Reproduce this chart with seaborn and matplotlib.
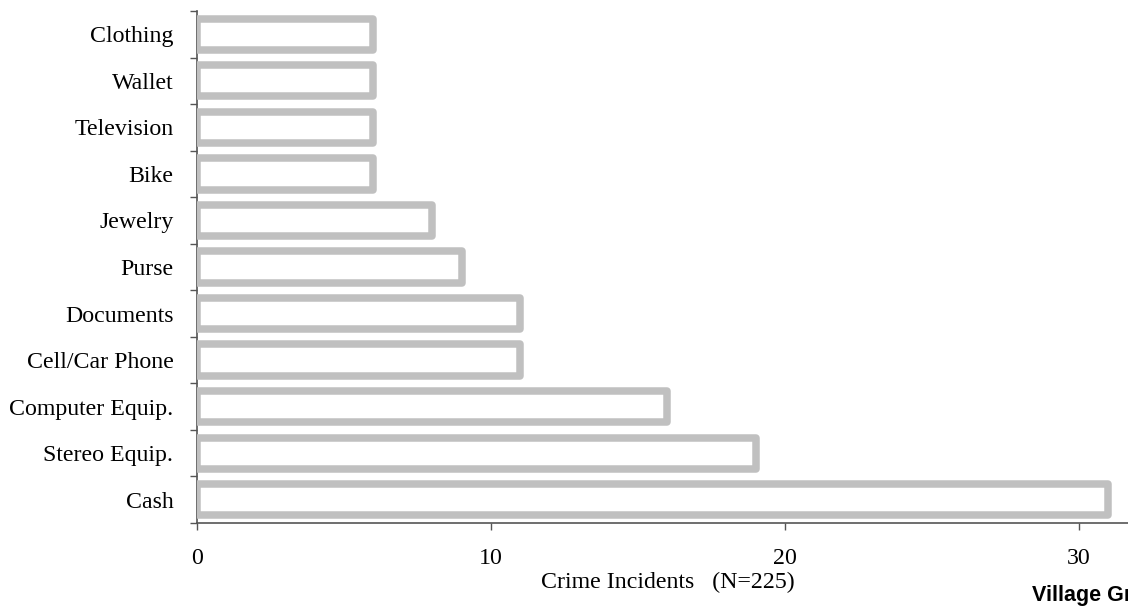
import matplotlib
matplotlib.use("Agg")
import matplotlib.pyplot as plt
import seaborn as sns
import pandas as pd
import numpy as np

categories = ["Clothing", "Wallet", "Television", "Bike", "Jewelry", "Purse",
              "Documents", "Cell/Car Phone", "Computer Equip.", "Stereo Equip.", "Cash"]
incidents = [6, 6, 6, 6, 8, 9, 11, 11, 16, 19, 31]
xticks = [0, 10, 20, 30]
xlabel = "Crime Incidents   (N=225)"
footer = "Village Gr"

sns.set_theme(style="white")
plt.rcParams['font.family'] = ['Liberation Serif', 'DejaVu Serif']

df = pd.DataFrame({"item": categories, "count": incidents})

W, H = 1128, 611
fig = plt.figure(figsize=(W / 100, H / 100), dpi=100)
left_px, top_px, bottom_px = 197, 11, 523
width_px = 29.4 * 32
ax = fig.add_axes([left_px / W, (H - bottom_px) / H, width_px / W, (bottom_px - top_px) / H])

sns.barplot(data=df, x="count", y="item", order=categories, orient="h",
            color="white", edgecolor="#c0c0c0", linewidth=5.4, width=0.67, ax=ax)
for p in ax.patches:
    p.set_joinstyle("round")
    p.set_facecolor("white")

ax.set_xlim(0, 32)
ax.set_ylim(len(categories) - 0.5, -0.5)

for s in ["top", "right"]:
    ax.spines[s].set_visible(False)
for s in ["left", "bottom"]:
    ax.spines[s].set_color("#555555")
    ax.spines[s].set_linewidth(1.2)
    ax.spines[s].set_zorder(0.5)

ax.set_xticks(xticks)
ax.set_xticklabels([str(t) for t in xticks])
ax.set_yticks(range(len(categories)))
ax.set_yticklabels(categories)
ax.set_yticks(np.arange(-0.5, len(categories), 1.0), minor=True)

ax.tick_params(axis="y", which="major", length=0, pad=17, labelsize=17.2, labelcolor="black")
ax.tick_params(axis="y", which="minor", left=True, length=5, width=1, color="#555555", direction="out")
ax.tick_params(axis="x", which="major", bottom=True, length=5, width=1, color="#555555",
               direction="out", pad=13, labelsize=17.2, labelcolor="black")

ax.set_xlabel(xlabel, fontsize=17.2, labelpad=2, color="black")
ax.set_ylabel("")

fig.text(1032 / W, 1 - 596 / H, footer, fontsize=15.5, fontweight="bold",
         family=["Liberation Sans", "DejaVu Sans"], ha="left", va="center", color="black")

fig.savefig("out.png", dpi=100)
